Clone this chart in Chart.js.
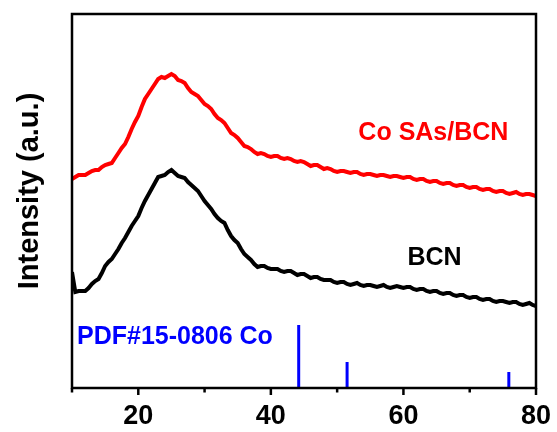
<!DOCTYPE html>
<html>
<head>
<meta charset="utf-8">
<script src="https://cdn.jsdelivr.net/npm/chart.js@4"></script>
<style>
  html, body { margin: 0; padding: 0; background: #fff; }
  #wrap { width: 557px; height: 432px; }
</style>
</head>
<body>
<div id="wrap"><canvas id="xrdChart" width="557" height="432"></canvas></div>
<script>
// 2-theta (degrees), one reading every half degree
const twoTheta = [10, 10.5, 11, 11.5, 12, 12.5, 13, 13.5, 14, 14.5,
    15, 15.5, 16, 16.5, 17, 17.5, 18, 18.5, 19, 19.5,
    20, 20.5, 21, 21.5, 22, 22.5, 23, 23.5, 24, 24.5,
    25, 25.5, 26, 26.5, 27, 27.5, 28, 28.5, 29, 29.5,
    30, 30.5, 31, 31.5, 32, 32.5, 33, 33.5, 34, 34.5,
    35, 35.5, 36, 36.5, 37, 37.5, 38, 38.5, 39, 39.5,
    40, 40.5, 41, 41.5, 42, 42.5, 43, 43.5, 44, 44.5,
    45, 45.5, 46, 46.5, 47, 47.5, 48, 48.5, 49, 49.5,
    50, 50.5, 51, 51.5, 52, 52.5, 53, 53.5, 54, 54.5,
    55, 55.5, 56, 56.5, 57, 57.5, 58, 58.5, 59, 59.5,
    60, 60.5, 61, 61.5, 62, 62.5, 63, 63.5, 64, 64.5,
    65, 65.5, 66, 66.5, 67, 67.5, 68, 68.5, 69, 69.5,
    70, 70.5, 71, 71.5, 72, 72.5, 73, 73.5, 74, 74.5,
    75, 75.5, 76, 76.5, 77, 77.5, 78, 78.5, 79, 79.5, 80];

// Co SAs/BCN (offset trace)
const coSasBcn = [209, 211, 213, 213, 213, 215, 217, 218, 218, 221,
    223, 224, 225, 230, 235, 240, 244, 251, 259, 266,
    272, 281, 289, 294, 299, 304, 309, 311, 310, 312,
    314, 312, 308, 307, 305, 300, 296, 294, 292, 288,
    284, 282, 279, 274, 270, 268, 265, 260, 255, 253,
    250, 246, 242, 241, 239, 236, 234, 235, 234, 232,
    231, 232, 232, 230, 229, 230, 229, 227, 226, 227,
    226, 224, 222, 223, 223, 221, 219, 220, 219, 217,
    216, 217, 217, 216, 215, 216, 216, 214, 213, 214,
    214, 213, 212, 213, 213, 212, 211, 212, 212, 211,
    210, 211, 211, 209, 208, 209, 209, 207, 206, 207,
    207, 205, 204, 205, 205, 203, 202, 203, 203, 201,
    200, 201, 201, 199, 198, 199, 199, 197, 196, 197,
    197, 195, 194, 195, 196, 194, 193, 194, 194, 193, 192];

// BCN
const bcn = [116, 96, 97, 97, 97, 100, 104, 107, 109, 115,
    122, 126, 129, 134, 139, 145, 150, 156, 162, 167,
    172, 180, 187, 193, 199, 205, 211, 212, 213, 216,
    218, 215, 212, 211, 210, 206, 203, 200, 197, 192,
    187, 183, 179, 174, 170, 167, 165, 158, 152, 148,
    145, 139, 134, 131, 128, 124, 121, 122, 122, 120,
    119, 119, 119, 117, 116, 117, 117, 115, 113, 114,
    114, 112, 110, 111, 111, 109, 108, 108, 108, 106,
    105, 106, 106, 104, 103, 104, 105, 103, 102, 103,
    103, 102, 101, 102, 103, 101, 100, 101, 102, 101,
    100, 101, 101, 99, 98, 99, 99, 97, 96, 97,
    97, 95, 94, 95, 95, 93, 92, 93, 93, 91,
    90, 91, 91, 89, 88, 89, 89, 87, 86, 87,
    87, 86, 85, 86, 86, 84, 83, 84, 85, 83, 82];

// PDF#15-0806 Co reference sticks
const pdfPositions = [44.2, 51.5, 75.9];
const pdfHeights = [63, 26, 16];

const xTicks = [10, 20, 30, 40, 50, 60, 70, 80];
const xTickLabels = ['', '20', '', '40', '', '60', '', '80'];

const FONT = '"Liberation Sans", Arial, sans-serif';

const toPoints = (xs, ys) => xs.map((x, i) => ({ x: x, y: ys[i] }));

const datasets = [
    {
        label: 'Co SAs/BCN',
        data: toPoints(twoTheta, coSasBcn),
        borderColor: '#ff0000',
        borderWidth: 4,
        pointRadius: 0,
        tension: 0
    },
    {
        label: 'BCN',
        data: toPoints(twoTheta, bcn),
        borderColor: '#000000',
        borderWidth: 4,
        pointRadius: 0,
        tension: 0
    }
];

pdfPositions.forEach((pos, i) => {
    datasets.push({
        label: 'PDF ' + pos,
        data: [{ x: pos, y: 0 }, { x: pos, y: pdfHeights[i] }],
        borderColor: '#0000ff',
        borderWidth: 3,
        pointRadius: 0
    });
});

// text labels placed in data coordinates
const annotations = [
    { text: 'Co SAs/BCN', x: 53.2, y: 255, color: '#ff0000' },
    { text: 'BCN', x: 60.6, y: 130, color: '#000000' },
    { text: 'PDF#15-0806 Co', x: 10.75, y: 51, color: '#0000ff' }
];

// frame, bottom ticks, y title and text labels
const framePlugin = {
    id: 'frame',
    afterDatasetsDraw(chart) {
        const ctx = chart.ctx;
        const area = chart.chartArea;
        const xs = chart.scales.x;
        const ys = chart.scales.y;
        ctx.save();

        ctx.font = 'bold 25px ' + FONT;
        ctx.textBaseline = 'middle';
        ctx.textAlign = 'left';
        annotations.forEach(a => {
            ctx.fillStyle = a.color;
            ctx.fillText(a.text, xs.getPixelForValue(a.x), ys.getPixelForValue(a.y));
        });

        // y axis title
        ctx.save();
        ctx.translate(30, 191);
        ctx.rotate(-Math.PI / 2);
        ctx.textAlign = 'center';
        ctx.fillStyle = '#000';
        ctx.font = 'bold 29px ' + FONT;
        ctx.fillText('Intensity (a.u.)', 0, 0);
        ctx.restore();

        ctx.strokeStyle = '#000';
        ctx.lineWidth = 2.5;
        ctx.strokeRect(area.left, area.top, area.right - area.left, area.bottom - area.top);

        xTicks.forEach((t, i) => {
            const px = xs.getPixelForValue(t);
            const len = xTickLabels[i] ? 7 : 4.5;
            ctx.beginPath();
            ctx.moveTo(px, area.bottom);
            ctx.lineTo(px, area.bottom + len);
            ctx.stroke();
        });
        ctx.restore();
    }
};

new Chart(document.getElementById('xrdChart').getContext('2d'), {
    type: 'line',
    data: { datasets: datasets },
    options: {
        responsive: false,
        animation: false,
        layout: { padding: { top: 14, right: 21, left: 0, bottom: 0 } },
        plugins: {
            legend: { display: false },
            tooltip: { enabled: false }
        },
        scales: {
            x: {
                type: 'linear',
                min: 10,
                max: 80,
                grid: { display: false },
                border: { display: false },
                afterBuildTicks: scale => {
                    scale.ticks = xTicks.map(v => ({ value: v }));
                },
                afterFit: scale => { scale.height = 44; },
                ticks: {
                    color: '#000',
                    padding: 4,
                    maxRotation: 0,
                    autoSkip: false,
                    font: { family: FONT, size: 27, weight: 'bold' },
                    callback: (v) => xTickLabels[xTicks.indexOf(v)]
                }
            },
            y: {
                min: 0,
                max: 374,
                grid: { display: false },
                border: { display: false },
                ticks: { display: false },
                afterFit: scale => { scale.width = 72; }
            }
        }
    },
    plugins: [framePlugin]
});
</script>
</body>
</html>
